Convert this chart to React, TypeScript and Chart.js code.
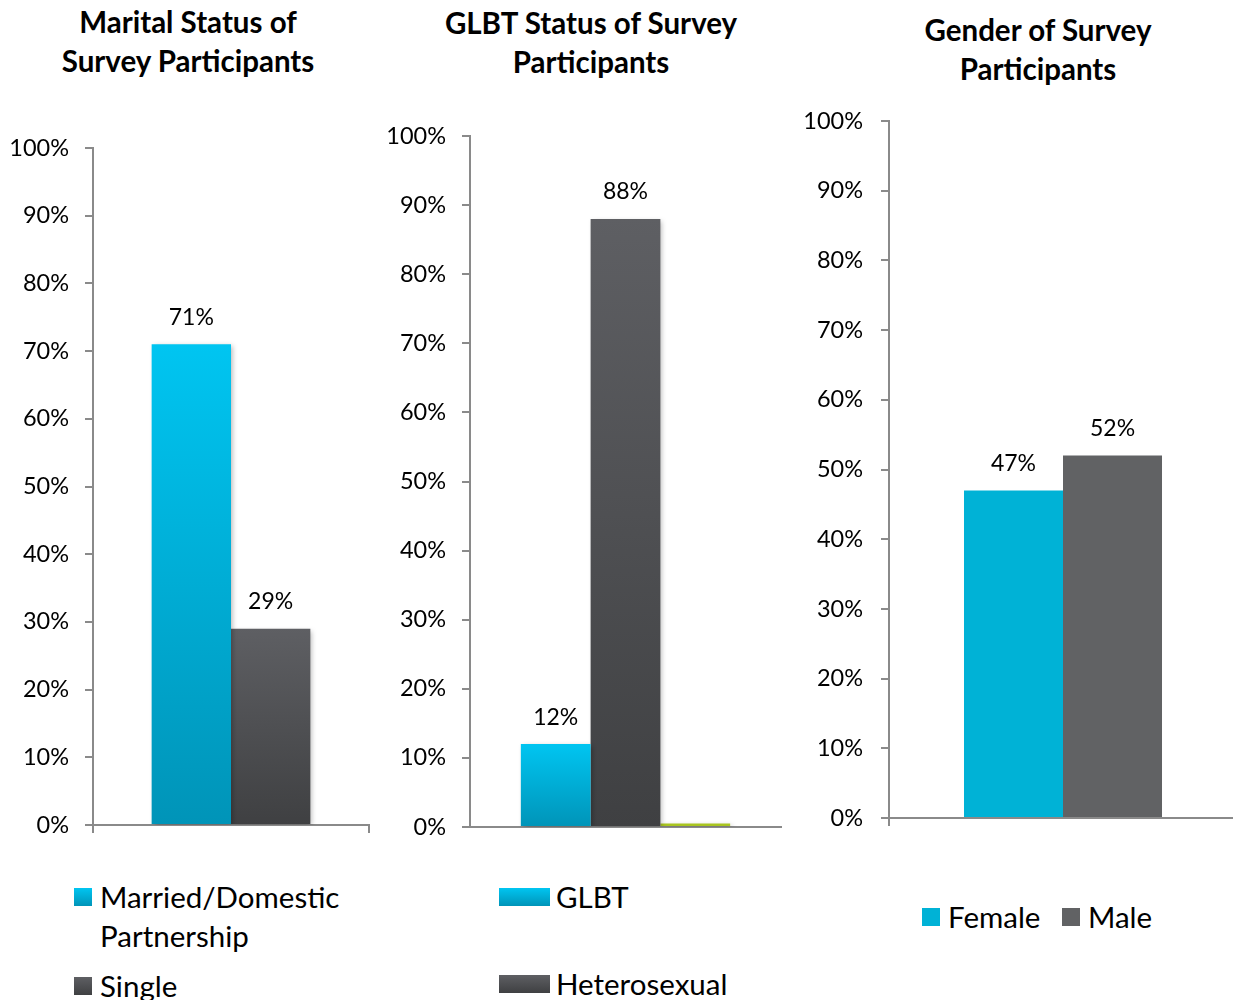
import React, { useEffect, useRef } from "react";
import { Chart, registerables } from "chart.js";

Chart.register(...registerables);

// ---- data ----
const maritalCategories = ["Married/Domestic Partnership", "Single"];
const maritalValues = [71, 29];

const glbtCategories = ["GLBT", "Heterosexual", "Other"];
const glbtValues = [12, 88, 0.5];

const genderCategories = ["Female", "Male"];
const genderValues = [47, 52];

const yTickValues = [0, 10, 20, 30, 40, 50, 60, 70, 80, 90, 100];

const FONT = "Lato, 'Open Sans', sans-serif";
const AXIS = "#8a8a8a";

type Fill = { top: string; bottom: string };
const CYAN_G: Fill = { top: "#00C5F1", bottom: "#0094B8" };
const GRAY_G: Fill = { top: "#5E5F63", bottom: "#3F4042" };
const GREEN_G: Fill = { top: "#A9C520", bottom: "#A9C520" };
const CYAN_F: Fill = { top: "#00B2D6", bottom: "#00B2D6" };
const GRAY_F: Fill = { top: "#616264", bottom: "#616264" };

function vGrad(f: Fill) {
  return (ctx: any) => {
    if (f.top === f.bottom) return f.top;
    const chart = ctx.chart;
    const { chartArea, scales } = chart;
    if (!chartArea || !scales || !scales.y || ctx.type !== "data") return f.bottom;
    const y = scales.y;
    const v = ctx.raw as number;
    const yTop = y.getPixelForValue(v);
    const yBot = y.getPixelForValue(0);
    if (!isFinite(yTop) || !isFinite(yBot) || Math.abs(yBot - yTop) < 1) return f.top;
    const g = chart.ctx.createLinearGradient(0, yTop, 0, yBot);
    g.addColorStop(0, f.top);
    g.addColorStop(1, f.bottom);
    return g;
  };
}

const valueLabelPlugin = {
  id: "valueLabels",
  afterDatasetsDraw(chart: any, _args: any, opts: any) {
    const show: number[] = opts.show || [];
    const ctx = chart.ctx;
    ctx.save();
    ctx.font = `23px ${FONT}`;
    ctx.fillStyle = "#000";
    ctx.textAlign = "center";
    ctx.textBaseline = "middle";
    chart.data.datasets.forEach((ds: any, i: number) => {
      if (!show.includes(i)) return;
      const meta = chart.getDatasetMeta(i);
      meta.data.forEach((el: any, j: number) => {
        ctx.fillText(`${ds.data[j]}%`, el.x, el.y - 27);
      });
    });
    ctx.restore();
  },
};

const shadowPlugin = {
  id: "barShadow",
  beforeDatasetDraw(chart: any, _args: any, opts: any) {
    if (!opts.enabled) return;
    const ctx = chart.ctx;
    ctx.save();
    ctx.shadowColor = "rgba(0,0,0,0.28)";
    ctx.shadowBlur = 5;
    ctx.shadowOffsetX = 2;
    ctx.shadowOffsetY = 2;
  },
  afterDatasetDraw(chart: any, _args: any, opts: any) {
    if (!opts.enabled) return;
    chart.ctx.restore();
  },
};

type PanelProps = {
  left: number;
  top: number;
  width: number;
  height: number;
  categories: string[];
  values: number[];
  fills: Fill[];
  yWidth: number;
  padTop: number;
  padRight: number;
  tickPad: number;
  tickLen: number;
  catPct: number;
  xTicks: boolean;
  labelShow: number[];
  shadow: boolean;
};

function BarPanel(p: PanelProps) {
  const ref = useRef<HTMLCanvasElement | null>(null);
  useEffect(() => {
    if (!ref.current) return;
    const chart = new Chart(ref.current, {
      type: "bar",
      data: {
        labels: [""],
        datasets: p.categories.map((c, i) => ({
          label: c,
          data: [p.values[i]],
          backgroundColor: vGrad(p.fills[i]),
          borderWidth: 0,
          barPercentage: 1,
          categoryPercentage: p.catPct,
        })),
      },
      options: {
        animation: false,
        responsive: false,
        maintainAspectRatio: false,
        layout: { padding: { top: p.padTop, right: p.padRight, left: 0, bottom: 0 } },
        plugins: {
          legend: { display: false },
          title: { display: false },
          tooltip: { enabled: false },
          valueLabels: { show: p.labelShow },
          barShadow: { enabled: p.shadow },
        } as any,
        scales: {
          x: {
            type: "category",
            offset: true,
            grid: {
              display: true,
              offset: true,
              drawOnChartArea: false,
              drawTicks: p.xTicks,
              tickLength: 8,
              color: AXIS,
              lineWidth: 2,
            },
            border: { display: true, color: AXIS, width: 2 },
            ticks: { display: false },
            afterFit: (s: any) => {
              s.height = 35;
            },
          },
          y: {
            type: "linear",
            min: 0,
            max: 100,
            afterBuildTicks: (s: any) => {
              s.ticks = yTickValues.map((v) => ({ value: v }));
            },
            ticks: {
              padding: p.tickPad,
              color: "#000",
              font: { family: FONT, size: 23.5 },
              callback: (v: any) => `${v}%`,
            },
            grid: {
              display: true,
              drawOnChartArea: false,
              drawTicks: true,
              tickLength: p.tickLen,
              color: AXIS,
              lineWidth: 2,
            },
            border: { display: true, color: AXIS, width: 2 },
            afterFit: (s: any) => {
              s.width = p.yWidth;
            },
          },
        },
      },
      plugins: [valueLabelPlugin, shadowPlugin],
    });
    return () => chart.destroy();
  }, []);
  return (
    <canvas
      ref={ref}
      width={p.width}
      height={p.height}
      style={{ position: "absolute", left: p.left, top: p.top, width: p.width, height: p.height }}
    />
  );
}

function fillCss(f: Fill) {
  return f.top === f.bottom ? f.top : `linear-gradient(to bottom, ${f.top}, ${f.bottom})`;
}

const titleStyle = (cx: number, top: number): React.CSSProperties => ({
  position: "absolute",
  left: cx - 210,
  width: 420,
  top,
  textAlign: "center",
  fontFamily: FONT,
  fontWeight: 700,
  fontSize: 29.5,
  lineHeight: "39px",
  color: "#000",
});

const legendText = (left: number, top: number, width?: number): React.CSSProperties => ({
  position: "absolute",
  left,
  top,
  width,
  fontFamily: FONT,
  fontSize: 29.5,
  lineHeight: "39px",
  color: "#000",
  whiteSpace: width ? "normal" : "nowrap",
});

const swatch = (left: number, top: number, w: number, h: number, f: Fill): React.CSSProperties => ({
  position: "absolute",
  left,
  top,
  width: w,
  height: h,
  background: fillCss(f),
});

export default function App() {
  const maritalFills = [CYAN_G, GRAY_G];
  const glbtFills = [CYAN_G, GRAY_G, GREEN_G];
  const genderFills = [CYAN_F, GRAY_F];
  return (
    <div
      style={{
        position: "fixed",
        left: 0,
        top: 0,
        width: 1233,
        height: 1000,
        overflow: "hidden",
        background: "#fff",
      }}
    >
      {/* Titles */}
      <div style={titleStyle(188, 2)}>
        Marital Status of
        <br />
        Survey Participants
      </div>
      <div style={titleStyle(591, 3)}>
        GLBT Status of Survey
        <br />
        Participants
      </div>
      <div style={titleStyle(1038, 10)}>
        Gender of Survey
        <br />
        Participants
      </div>

      <BarPanel
        left={0}
        top={100}
        width={400}
        height={760}
        categories={maritalCategories}
        values={maritalValues}
        fills={maritalFills}
        yWidth={93}
        padTop={48}
        padRight={31}
        tickPad={16}
        tickLen={8}
        catPct={0.575}
        xTicks={true}
        labelShow={[0, 1]}
        shadow={true}
      />
      <BarPanel
        left={380}
        top={100}
        width={420}
        height={762}
        categories={glbtCategories}
        values={glbtValues}
        fills={glbtFills}
        yWidth={90}
        padTop={36}
        padRight={19}
        tickPad={16}
        tickLen={8}
        catPct={0.673}
        xTicks={false}
        labelShow={[0, 1]}
        shadow={true}
      />
      <BarPanel
        left={800}
        top={89}
        width={440}
        height={764}
        categories={genderCategories}
        values={genderValues}
        fills={genderFills}
        yWidth={89}
        padTop={32}
        padRight={3}
        tickPad={18}
        tickLen={8}
        catPct={0.569}
        xTicks={true}
        labelShow={[0, 1]}
        shadow={false}
      />

      {/* Legend: marital (vertical) */}
      {maritalCategories.map((c, i) => {
        const sq = [888, 977][i];
        return (
          <React.Fragment key={c}>
            <div style={swatch(74, sq, 18, 18, maritalFills[i])} />
            <div style={legendText(100, sq + 8 - 19.5, 260)}>{c}</div>
          </React.Fragment>
        );
      })}

      {/* Legend: GLBT (vertical, wide swatches) */}
      {glbtCategories.map((c, i) => {
        const sq = 888 + i * 87;
        return (
          <React.Fragment key={c}>
            <div style={swatch(499, sq, 51, 18, glbtFills[i])} />
            <div style={legendText(556, sq + 8 - 19.5)}>{c}</div>
          </React.Fragment>
        );
      })}

      {/* Legend: gender (horizontal) */}
      {genderCategories.map((c, i) => {
        const x = [922, 1062][i];
        return (
          <React.Fragment key={c}>
            <div style={swatch(x, 908, 18, 18, genderFills[i])} />
            <div style={legendText(x + 26, 916 - 19.5)}>{c}</div>
          </React.Fragment>
        );
      })}
    </div>
  );
}
